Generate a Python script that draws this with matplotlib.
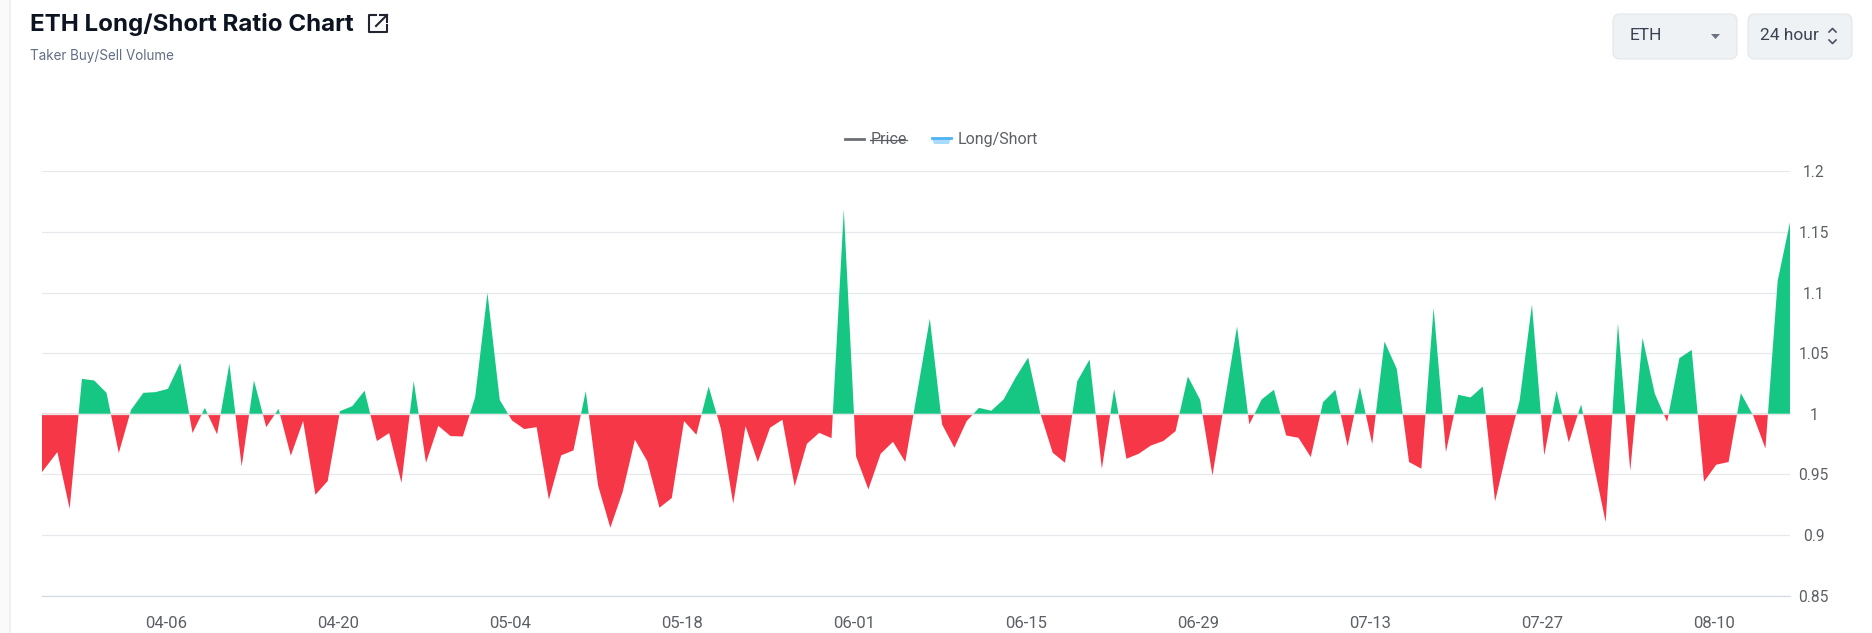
import numpy as np
import pandas as pd
import matplotlib
matplotlib.use('Agg')
import matplotlib.dates as mdates
from matplotlib import pyplot as plt
from matplotlib.patches import FancyBboxPatch, Polygon, Rectangle
from matplotlib.transforms import ScaledTranslation

start_date = '2025-03-26'
ratio = [
    0.942, 0.9552, 0.9684, 0.9217, 1.0288, 1.0275, 1.0173, 0.9676, 1.0033, 1.0173,
    1.0179, 1.0206, 1.042, 0.9841, 1.0049, 0.983, 1.0412, 0.9566, 1.0275, 0.989,
    1.0041, 0.9654, 0.994, 0.9332, 0.9445, 1.0022, 1.0063, 1.019, 0.9775, 0.9841,
    0.9431, 1.0269, 0.9596, 0.9901, 0.9816, 0.9813, 1.0137, 1.0997, 1.0115, 0.9945,
    0.9874, 0.989, 0.9291, 0.9657, 0.9698, 1.0187, 0.9409, 0.906, 0.9354, 0.9786,
    0.961, 0.9225, 0.9305, 0.994, 0.9827, 1.0225, 0.9876, 0.9258, 0.9898, 0.9602,
    0.9885, 0.9951, 0.9401, 0.9753, 0.9843, 0.9799, 1.1685, 0.9648, 0.9376, 0.967,
    0.9769, 0.9602, 1.019, 1.0785, 0.9912, 0.972, 0.994, 1.0049, 1.0025, 1.0118,
    1.0302, 1.0464, 1.0, 0.9679, 0.9596, 1.0269, 1.0448, 0.9547, 1.0203, 0.9629,
    0.967, 0.9739, 0.9775, 0.9857, 1.0308, 1.0115, 0.9492, 1.0107, 1.072, 0.9912,
    1.0118, 1.0198, 0.9821, 0.9802, 0.9643, 1.0096, 1.0198, 0.9731, 1.022, 0.975,
    1.0596, 1.0371, 0.9602, 0.9547, 1.0874, 0.9684, 1.0157, 1.0135, 1.0225, 0.9277,
    0.9712, 1.011, 1.0901, 0.9657, 1.019, 0.9764, 1.0077, 0.9593, 0.9107, 1.0745,
    0.953, 1.0626, 1.0165, 0.9934, 1.0459, 1.0527, 0.944, 0.958, 0.9602, 1.017,
    0.9986, 0.9714, 1.1099, 1.158,
]
x_ticks = ['2025-04-06', '2025-04-20', '2025-05-04', '2025-05-18', '2025-06-01',
           '2025-06-15', '2025-06-29', '2025-07-13', '2025-07-27', '2025-08-10']
y_ticks = [0.85, 0.9, 0.95, 1, 1.05, 1.1, 1.15, 1.2]
y_labels = ['0.85', '0.9', '0.95', '1', '1.05', '1.1', '1.15', '1.2']

GREEN = '#16C784'
RED = '#F63748'
GRID = '#E6E8EC'
TEXT = '#5C6066'
W, H = 1872, 633

plt.rcParams['font.family'] = ['Roboto', 'DejaVu Sans']
fig = plt.figure(figsize=(W / 100, H / 100), dpi=100, facecolor='white')

# pixel overlay for the page furniture around the chart
ui = fig.add_axes([0, 0, 1, 1], zorder=5)
ui.set_xlim(0, W)
ui.set_ylim(H, 0)
ui.axis('off')
ui.patch.set_alpha(0)

ax = fig.add_axes([42 / W, 1 - 595.6 / H, (1790 - 42) / W, (595.6 - 171.4) / H])
dates = pd.date_range(start_date, periods=len(ratio))
x = mdates.date2num(dates)
y = np.array(ratio)
ax.fill_between(x, y, 1, where=y >= 1, interpolate=True, color=GREEN, lw=0, zorder=2)
ax.fill_between(x, y, 1, where=y <= 1, interpolate=True, color=RED, lw=0, zorder=2)
ax.axhline(1, color=GRID, lw=0.9, zorder=3)
ax.set_xlim(x[0] + 0.75, x[-1])
ax.set_ylim(0.85, 1.2)
ax.set_yticks(y_ticks)
ax.set_yticklabels(y_labels)
ax.set_xticks(mdates.date2num(pd.to_datetime(x_ticks)))
ax.xaxis.set_major_formatter(mdates.DateFormatter('%m-%d'))
ax.grid(axis='y', color=GRID, lw=0.9, zorder=1)
ax.set_axisbelow(True)
for s in ['top', 'left', 'right']:
    ax.spines[s].set_visible(False)
ax.spines['bottom'].set_color('#D5DAE1')
ax.spines['bottom'].set_linewidth(0.9)
ax.yaxis.tick_right()
ax.tick_params(axis='y', length=0, pad=17, labelsize=11.2, labelcolor=TEXT)
ax.tick_params(axis='x', length=0, pad=15, labelsize=12, labelcolor=TEXT)
for t in ax.get_yticklabels():
    t.set_ha('center')
shift = ScaledTranslation(-2 / 100, 0, fig.dpi_scale_trans)
for t in ax.get_xticklabels():
    t.set_transform(t.get_transform() + shift)

# left page edge
ui.add_patch(Rectangle((0, 0), 10, H, color='#FAFAFA', lw=0))
ui.plot([10, 10], [0, H], color='#ECEEF0', lw=1.1)

# title block
ui.text(30, 24, 'ETH Long/Short Ratio Chart', family=['Inter', 'DejaVu Sans'], weight='bold',
        fontsize=17.35, color='#0D1421', va='center', ha='left')
ui.text(30, 56, 'Taker Buy/Sell Volume', family=['Inter', 'DejaVu Sans'],
        fontsize=9.7, color='#616E85', va='center', ha='left')
ui.plot([376, 369, 369, 387, 387], [15, 15, 32, 32, 25], color='#222531', lw=1.5)
ui.plot([376, 387], [26, 15], color='#222531', lw=1.5)
ui.plot([380, 387, 387], [15, 15, 22], color='#222531', lw=1.5)

# selectors
for bx, bw in [(1613, 124), (1748, 104)]:
    ui.add_patch(FancyBboxPatch((bx + 6, 20), bw - 12, 33, boxstyle='round,pad=6,rounding_size=7',
                                fc='#EFF2F5', ec='#E3E6EA', lw=0.8, mutation_aspect=1))
ui.text(1630, 36, 'ETH', fontsize=12.5, color='#3A4252', va='center', ha='left')
ui.text(1760, 36, '24 hour', fontsize=12.5, color='#3A4252', va='center', ha='left')
ui.add_patch(Polygon([[1711, 34], [1720, 34], [1715.5, 39]], color='#6B7280', lw=0))
ui.plot([1829, 1832.5, 1836], [32, 28.5, 32], color='#4A5160', lw=1.2)
ui.plot([1829, 1832.5, 1836], [40, 43.5, 40], color='#4A5160', lw=1.2)

# legend, Price is switched off so it is struck through
ui.plot([845, 864], [139, 139], color='#6B6E73', lw=2)
ui.text(871, 139.5, 'Price', fontsize=11.5, color=TEXT, va='center', ha='left')
ui.plot([870, 907], [139.5, 139.5], color=TEXT, lw=0.9)
ui.add_patch(Polygon([[932, 138], [951, 138], [949, 144], [934, 144]], color='#A9DCFB', lw=0))
ui.plot([932, 951], [138, 138], color='#4DB3F5', lw=2)
ui.text(958, 139.5, 'Long/Short', fontsize=11.5, color=TEXT, va='center', ha='left')

fig.savefig('out.png', dpi=100, facecolor='white')
